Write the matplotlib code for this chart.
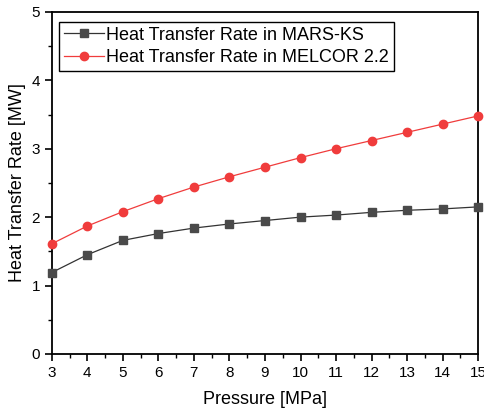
import matplotlib
matplotlib.use('Agg')
from matplotlib import pyplot as plt
from matplotlib.ticker import MultipleLocator
from typing import List

plt.rcParams['font.family'] = ['Liberation Sans', 'DejaVu Sans']

pressure: List[int] = [3, 4, 5, 6, 7, 8, 9, 10, 11, 12, 13, 14, 15]
mars_ks: List[float] = [1.19, 1.45, 1.66, 1.76, 1.84, 1.90, 1.95, 2.00, 2.03, 2.07, 2.10, 2.12, 2.15]
melcor: List[float] = [1.61, 1.87, 2.08, 2.27, 2.44, 2.59, 2.73, 2.87, 3.00, 3.12, 3.24, 3.36, 3.48]

fig = plt.figure(figsize=(4.84, 4.12), dpi=100)
ax = fig.add_axes([0.107, 0.141, 0.881, 0.830])

ax.plot(pressure, mars_ks, color='#333333', marker='s', markersize=5.5,
        markerfacecolor='#4a4a4a', markeredgecolor='#4a4a4a', linewidth=0.9,
        label='Heat Transfer Rate in MARS-KS', clip_on=False, zorder=3)
ax.plot(pressure, melcor, color='#f03c3c', marker='o', markersize=6,
        markerfacecolor='#f03c3c', markeredgecolor='#f03c3c', linewidth=0.9,
        label='Heat Transfer Rate in MELCOR 2.2', clip_on=False, zorder=3)

ax.set_xlim(3, 15)
ax.set_ylim(0, 5)
ax.xaxis.set_major_locator(MultipleLocator(1))
ax.xaxis.set_minor_locator(MultipleLocator(0.5))
ax.yaxis.set_major_locator(MultipleLocator(1))
ax.yaxis.set_minor_locator(MultipleLocator(0.5))
ax.tick_params(which='major', direction='out', length=5, width=1.2, labelsize=11)
ax.tick_params(which='minor', direction='out', length=3, width=1.0)
for s in ax.spines.values():
    s.set_linewidth(1.3)

ax.set_xlabel('Pressure [MPa]', fontsize=13, labelpad=8)
ax.set_ylabel('Heat Transfer Rate [MW]', fontsize=13)

leg = ax.legend(loc='upper left', bbox_to_anchor=(0.018, 0.97), fontsize=13,
                fancybox=False, edgecolor='black', framealpha=1,
                handlelength=2.2, handletextpad=0.15, borderpad=0.25,
                borderaxespad=0, labelspacing=0.3)
leg.get_frame().set_linewidth(1.0)

fig.savefig('out.png', dpi=100)
